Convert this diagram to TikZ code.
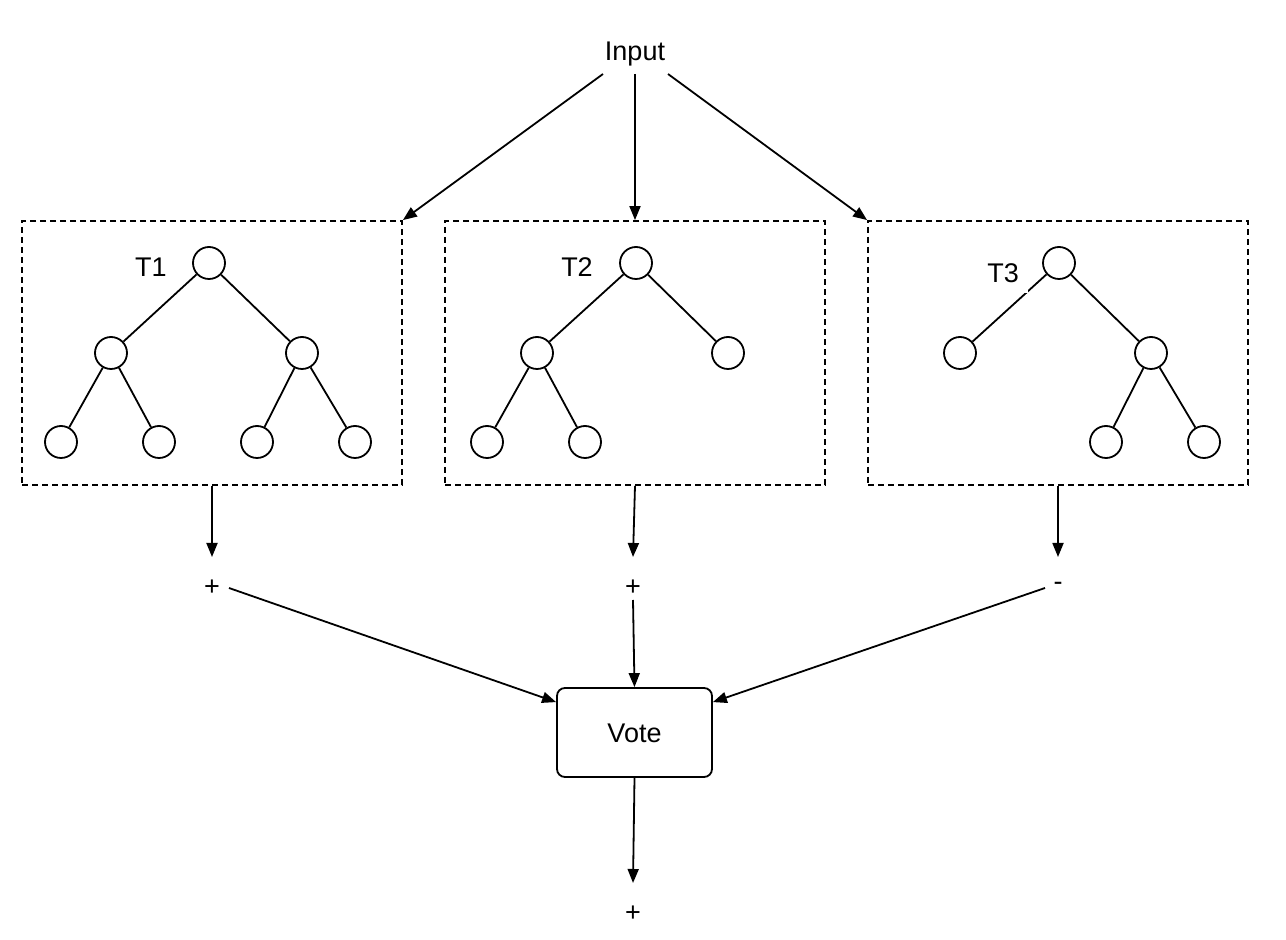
\documentclass[tikz,border=0pt]{standalone}
\usepackage{fontspec}
\setmainfont{Liberation Sans}
\usetikzlibrary{arrows.meta,calc}
\begin{document}
\begin{tikzpicture}[x=0.5pt,y=-0.5pt,
  every node/.style={font=\fontsize{13.5}{16}\selectfont},
  ln/.style={line width=0.9pt},
  arr/.style={ln,-{Triangle[length=7pt,width=5.5pt]}},
  tbox/.style={draw,ln,dash pattern=on 3pt off 2pt,minimum width=190pt,minimum height=132pt,inner sep=0pt},
  tn/.style={draw,ln,circle,minimum size=16pt,inner sep=0pt},
  vbox/.style={draw,ln,rounded corners=4pt,minimum width=77.5pt,minimum height=44.5pt,text depth=0pt,text height=9.7pt}]
\useasboundingbox (0,0) rectangle (1286,940);
\fill[white] (0,0) rectangle (1286,940);
% input
\node (in) at (635,54) {Input};
\coordinate (in1) at (603,74);
\coordinate (in2) at (635,74);
\coordinate (in3) at (668,74);
% boxes
\node[tbox] (b1) at (212,353) {};
\node[tbox] (b2) at (635,353) {};
\node[tbox] (b3) at (1058,353) {};
\draw[arr] (in1) -- (b1.north east);
\draw[arr] (in2) -- (b2.north);
\draw[arr] (in3) -- (b3.north west);
% tree 1
\node (t1) at (151,267) {T1};
\node[tn] (a0) at (209,263) {};
\node[tn] (a1) at (111,353) {};
\node[tn] (a2) at (302,353) {};
\node[tn] (a3) at (61,442) {};
\node[tn] (a4) at (159,442) {};
\node[tn] (a5) at (257,442) {};
\node[tn] (a6) at (355,442) {};
\draw[ln] (a0)--(a1) (a0)--(a2) (a1)--(a3) (a1)--(a4) (a2)--(a5) (a2)--(a6);
% tree 2
\node (t2) at (577,267) {T2};
\node[tn] (c0) at (636,263) {};
\node[tn] (c1) at (537,353) {};
\node[tn] (c2) at (728,353) {};
\node[tn] (c3) at (487,442) {};
\node[tn] (c4) at (585,442) {};
\draw[ln] (c0)--(c1) (c0)--(c2) (c1)--(c3) (c1)--(c4);
% tree 3
\node[tn] (d0) at (1059,263) {};
\node[tn] (d1) at (960,353) {};
\node[tn] (d2) at (1151,353) {};
\node[tn] (d3) at (1106,442) {};
\node[tn] (d4) at (1204,442) {};
\draw[ln] (d0)--(d1) (d0)--(d2) (d2)--(d3) (d2)--(d4);
\node[fill=white,minimum width=25pt,minimum height=20pt,inner sep=0pt] (t3) at (1003,273) {T3};
% outputs
\node (o1) at (212,588) {+};
\node (o2) at (633,588) {+};
\node (o3) at (1058,586) {-};
\coordinate (e1) at (212,557);
\coordinate (e2) at (633,557);
\coordinate (e3) at (1058,557);
\draw[arr] (b1.south) -- (e1);
\draw[arr] (b2.south) -- (e2);
\draw[arr] (b3.south) -- (e3);
% vote
\node[vbox] (v) at (634.5,732.5) {Vote};
\coordinate (s1) at (229,588);
\coordinate (s2) at (633,600);
\coordinate (s3) at (1045,588);
\draw[arr] (s1) -- ($(v.north west)+(0,15)$);
\draw[arr] (s2) -- (v.north);
\draw[arr] (s3) -- ($(v.north east)+(0,15)$);
\node (res) at (633,914) {+};
\coordinate (e4) at (633,883);
\draw[arr] (v.south) -- (e4);
\end{tikzpicture}
\end{document}
